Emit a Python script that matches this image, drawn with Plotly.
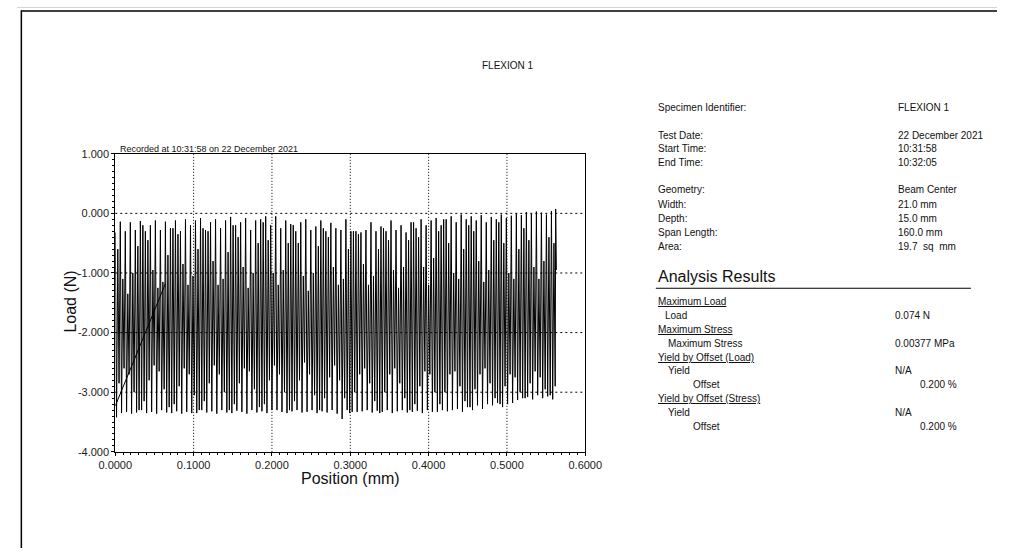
import plotly.graph_objects as go

# ---- Flexural test record: load vs crosshead position ----
position_mm = [
    0.0000, 0.0016, 0.0032, 0.0048, 0.0064, 0.0080, 0.0096, 0.0112, 0.0128, 0.0144,
    0.0160, 0.0176, 0.0192, 0.0208, 0.0224, 0.0240, 0.0256, 0.0272, 0.0288, 0.0304,
    0.0320, 0.0336, 0.0352, 0.0368, 0.0384, 0.0400, 0.0416, 0.0432, 0.0448, 0.0464,
    0.0480, 0.0496, 0.0512, 0.0528, 0.0544, 0.0560, 0.0576, 0.0592, 0.0608, 0.0624,
    0.0640, 0.0656, 0.0672, 0.0688, 0.0704, 0.0720, 0.0736, 0.0752, 0.0768, 0.0784,
    0.0800, 0.0816, 0.0832, 0.0848, 0.0864, 0.0880, 0.0896, 0.0912, 0.0928, 0.0944,
    0.0960, 0.0976, 0.0992, 0.1008, 0.1024, 0.1040, 0.1056, 0.1072, 0.1088, 0.1104,
    0.1120, 0.1136, 0.1152, 0.1168, 0.1184, 0.1200, 0.1216, 0.1232, 0.1248, 0.1264,
    0.1280, 0.1296, 0.1312, 0.1328, 0.1344, 0.1360, 0.1376, 0.1392, 0.1408, 0.1424,
    0.1440, 0.1456, 0.1472, 0.1488, 0.1504, 0.1520, 0.1536, 0.1552, 0.1568, 0.1584,
    0.1600, 0.1616, 0.1632, 0.1648, 0.1664, 0.1680, 0.1696, 0.1712, 0.1728, 0.1744,
    0.1760, 0.1776, 0.1792, 0.1808, 0.1824, 0.1840, 0.1856, 0.1872, 0.1888, 0.1904,
    0.1920, 0.1936, 0.1952, 0.1968, 0.1984, 0.2000, 0.2016, 0.2032, 0.2048, 0.2064,
    0.2080, 0.2096, 0.2112, 0.2128, 0.2144, 0.2160, 0.2176, 0.2192, 0.2208, 0.2224,
    0.2240, 0.2256, 0.2272, 0.2288, 0.2304, 0.2320, 0.2336, 0.2352, 0.2368, 0.2384,
    0.2400, 0.2416, 0.2432, 0.2448, 0.2464, 0.2480, 0.2496, 0.2512, 0.2528, 0.2544,
    0.2560, 0.2576, 0.2592, 0.2608, 0.2624, 0.2640, 0.2656, 0.2672, 0.2688, 0.2704,
    0.2720, 0.2736, 0.2752, 0.2768, 0.2784, 0.2800, 0.2816, 0.2832, 0.2848, 0.2864,
    0.2880, 0.2896, 0.2912, 0.2928, 0.2944, 0.2960, 0.2976, 0.2992, 0.3008, 0.3024,
    0.3040, 0.3056, 0.3072, 0.3088, 0.3104, 0.3120, 0.3136, 0.3152, 0.3168, 0.3184,
    0.3200, 0.3216, 0.3232, 0.3248, 0.3264, 0.3280, 0.3296, 0.3312, 0.3328, 0.3344,
    0.3360, 0.3376, 0.3392, 0.3408, 0.3424, 0.3440, 0.3456, 0.3472, 0.3488, 0.3504,
    0.3520, 0.3536, 0.3552, 0.3568, 0.3584, 0.3600, 0.3616, 0.3632, 0.3648, 0.3664,
    0.3680, 0.3696, 0.3712, 0.3728, 0.3744, 0.3760, 0.3776, 0.3792, 0.3808, 0.3824,
    0.3840, 0.3856, 0.3872, 0.3888, 0.3904, 0.3920, 0.3936, 0.3952, 0.3968, 0.3984,
    0.4000, 0.4016, 0.4032, 0.4048, 0.4064, 0.4080, 0.4096, 0.4112, 0.4128, 0.4144,
    0.4160, 0.4176, 0.4192, 0.4208, 0.4224, 0.4240, 0.4256, 0.4272, 0.4288, 0.4304,
    0.4320, 0.4336, 0.4352, 0.4368, 0.4384, 0.4400, 0.4416, 0.4432, 0.4448, 0.4464,
    0.4480, 0.4496, 0.4512, 0.4528, 0.4544, 0.4560, 0.4576, 0.4592, 0.4608, 0.4624,
    0.4640, 0.4656, 0.4672, 0.4688, 0.4704, 0.4720, 0.4736, 0.4752, 0.4768, 0.4784,
    0.4800, 0.4816, 0.4832, 0.4848, 0.4864, 0.4880, 0.4896, 0.4912, 0.4928, 0.4944,
    0.4960, 0.4976, 0.4992, 0.5008, 0.5024, 0.5040, 0.5056, 0.5072, 0.5088, 0.5104,
    0.5120, 0.5136, 0.5152, 0.5168, 0.5184, 0.5200, 0.5216, 0.5232, 0.5248, 0.5264,
    0.5280, 0.5296, 0.5312, 0.5328, 0.5344, 0.5360, 0.5376, 0.5392, 0.5408, 0.5424,
    0.5440, 0.5456, 0.5472, 0.5488, 0.5504, 0.5520, 0.5536, 0.5552, 0.5568, 0.5584,
    0.5600, 0.5616, 0.5622, 0.5631,
]

load_n = [
    -0.32, -3.42, -0.60, -2.85,  -0.14, -3.35, -1.10, -2.60,  -0.30, -3.33, -1.35, -2.70,  -0.15, -3.36, -1.00, -3.00,
    -0.28, -3.34, -0.55, -3.30,  -0.13, -3.30, -0.20, -3.15,  -0.30, -3.35, -0.45, -2.80,  -0.20, -3.33, -0.95, -2.55,
    -0.12, -3.36, -1.25, -2.65,  -0.28, -3.30, -1.15, -2.95,  -0.14, -3.34, -0.70, -3.25,  -0.25, -3.35, -0.25, -3.20,
    -0.12, -3.32, -0.35, -2.90,  -0.30, -3.36, -0.85, -2.60,  -0.10, -3.33, -1.20, -2.70,  -0.20, -3.35, -1.05, -3.05,
    -0.12, -3.35, -0.60, -3.30,  -0.08, -3.30, -0.25, -3.15,  -0.28, -3.34, -0.30, -2.85,  -0.15, -3.32, -0.80, -2.55,
    -0.10, -3.36, -1.20, -2.70,  -0.25, -3.30, -1.10, -3.00,  -0.12, -3.34, -0.65, -3.30,  -0.06, -3.35, -0.20, -3.20,
    -0.20, -3.31, -0.40, -2.85,  -0.15, -3.33, -0.90, -2.60,  -0.08, -3.36, -1.25, -2.65,  -0.28, -3.30, -1.00, -2.95,
    -0.12, -3.34, -0.50, -3.25,  -0.10, -3.32, -0.15, -3.20,  -0.05, -3.35, -0.45, -2.80,  -0.20, -3.30, -1.00, -2.55,
    -0.05, -3.30, -1.20, -2.70,  -0.25, -3.33, -0.95, -3.00,  -0.12, -3.35, -0.50, -3.30,  -0.18, -3.32, -0.20, -3.15,
    -0.30, -3.30, -0.50, -2.80,  -0.15, -3.34, -1.05, -2.50,  -0.10, -3.33, -1.30, -2.70,  -0.28, -3.30, -1.00, -3.05,
    -0.22, -3.35, -0.55, -3.30,  -0.12, -3.32, -0.25, -3.10,  -0.30, -3.34, -0.40, -2.75,  -0.16, -3.30, -0.90, -2.55,
    -0.25, -3.36, -1.20, -2.80,  -0.28, -3.45, -1.10, -3.10,  -0.10, -3.30, -0.60, -3.35,  -0.30, -3.33, -0.30, -3.00,
    -0.30, -3.33, -0.35, -2.70,  -0.32, -3.32, -0.85, -2.60,  -0.28, -3.30, -1.20, -2.85,  -0.15, -3.34, -1.05, -3.15,
    -0.30, -3.31, -0.60, -3.35,  -0.22, -3.33, -0.25, -3.00,  -0.30, -3.30, -0.45, -2.70,  -0.12, -3.35, -0.95, -2.60,
    -0.28, -3.32, -1.25, -2.85,  -0.20, -3.30, -0.90, -3.10,  -0.32, -3.34, -0.45, -3.30,  -0.15, -3.33, -0.15, -3.20,
    -0.25, -3.31, -0.40, -2.90,  -0.10, -3.35, -0.90, -2.65,  -0.20, -3.30, -1.20, -2.70,  -0.12, -3.33, -0.75, -3.00,
    -0.08, -3.33, -0.30, -3.20,  -0.20, -3.30, -0.10, -3.00,  -0.10, -3.32, -0.50, -2.70,  -0.05, -3.30, -1.00, -2.65,
    -0.15, -3.28, -1.10, -2.90,  -0.02, -3.33, -0.60, -3.15,  -0.10, -3.25, -0.20, -3.25,  -0.05, -3.30, -0.30, -2.95,
    -0.12, -3.22, -0.80, -2.70,  -0.03, -3.28, -1.15, -2.60,  -0.15, -3.20, -0.95, -2.85,  -0.06, -3.22, -0.45, -3.10,
    -0.10, -3.18, -0.15, -3.20,  -0.02, -3.25, -0.50, -2.90,  -0.08, -3.20, -1.00, -2.70,  -0.04, -3.18, -1.10, -2.75,
     0.00, -3.13, -0.60, -3.00,  -0.03, -3.10, -0.25, -3.10,   0.02, -3.08, -0.45, -2.85,  -0.01, -3.12, -0.90, -2.65,
     0.03, -3.05, -1.10, -2.75,   0.01, -3.10, -0.80, -2.95,  -0.02, -3.07, -0.40, -3.05,   0.04, -3.12, -0.50, -2.90,
     0.074, -0.95,
]

# 0.2 % offset construction line
offset_x = [0.0, 0.064]
offset_y = [-3.23, -1.18]

x_ticks = [0.0, 0.1, 0.2, 0.3, 0.4, 0.5, 0.6]
y_ticks = [-4.0, -3.0, -2.0, -1.0, 0.0, 1.0]
x_grid = [0.1, 0.2, 0.3, 0.4, 0.5]
y_grid = [-3.0, -2.0, -1.0, 0.0]

spec_labels = ["Specimen Identifier:", "Test Date:", "Start Time:", "End Time:",
               "Geometry:", "Width:", "Depth:", "Span Length:", "Area:"]
spec_values = ["FLEXION 1", "22 December 2021", "10:31:58", "10:32:05",
               "Beam Center", "21.0 mm", "15.0 mm", "160.0 mm", "19.7  sq  mm"]

W, H = 1014, 554
FONT = "Liberation Sans, Arial, sans-serif"
INK = "#111111"


def px(x):
    return x / W


def py(y):
    return 1 - y / H


fig = go.Figure()
fig.add_trace(go.Scatter(x=position_mm, y=load_n, mode="lines",
                         line=dict(color="black", width=1), hoverinfo="skip",
                         showlegend=False))
fig.add_trace(go.Scatter(x=offset_x, y=offset_y, mode="lines",
                         line=dict(color="black", width=1), hoverinfo="skip",
                         showlegend=False))

shapes = []
# grid drawn over the trace
for gx in x_grid:
    shapes.append(dict(type="line", xref="x", yref="y domain", x0=gx, x1=gx, y0=0, y1=1,
                       line=dict(color="black", width=1, dash="1px,2px"), layer="above"))
for gy in y_grid:
    shapes.append(dict(type="line", xref="x domain", yref="y", x0=0, x1=1, y0=gy, y1=gy,
                       line=dict(color="black", width=1, dash="2px,3px"), layer="above"))

# page frame (top and left edges)
shapes.append(dict(type="line", xref="paper", yref="paper", x0=0, x1=1, y0=py(1.5), y1=py(1.5),
                   line=dict(color="#d4d4d4", width=1)))
shapes.append(dict(type="line", xref="paper", yref="paper", x0=px(4), x1=1, y0=py(5), y1=py(5),
                   line=dict(color="black", width=1.5)))
shapes.append(dict(type="line", xref="paper", yref="paper", x0=px(4.5), x1=px(4.5), y0=0, y1=py(4.5),
                   line=dict(color="black", width=1.5)))
# rule under "Analysis Results"
shapes.append(dict(type="line", xref="paper", yref="paper", x0=px(661), x1=px(987), y0=py(288.5), y1=py(288.5),
                   line=dict(color="black", width=1)))

annotations = []


def text(x, y, s, size=10, anchor="left", angle=0):
    annotations.append(dict(x=px(x), y=py(y), xref="paper", yref="paper", text=s,
                            showarrow=False, xanchor=anchor, yanchor="middle",
                            textangle=angle, font=dict(family=FONT, size=size, color=INK)))


text(508, 61, "FLEXION 1", 10, "center")
text(105, 146, "Recorded at 10:31:58 on 22 December 2021", 9)
text(55, 302, "Load (N)", 16, "center", -90)
text(345, 483, "Position (mm)", 16, "center")

spec_rows = [104, 132, 146, 160, 188, 202.5, 217, 231.5, 246]
for lab, val, yy in zip(spec_labels, spec_values, spec_rows):
    text(661, yy, lab)
    text(909, yy, val)

text(661, 276.5, "Analysis Results", 16)
text(661, 302.5, "<u>Maximum Load</u>")
text(668, 316.5, "Load")
text(906, 316.5, "0.074 N")
text(661, 330.5, "<u>Maximum Stress</u>")
text(671, 345, "Maximum Stress")
text(906, 345, "0.00377 MPa")
text(661, 359.5, "<u>Yield by Offset (Load)</u>")
text(671, 373, "Yield")
text(906, 373, "N/A")
text(697, 387, "Offset")
text(975, 387, "0.200 %", anchor="right")
text(661, 401.5, "<u>Yield by Offset (Stress)</u>")
text(671, 415.5, "Yield")
text(906, 415.5, "N/A")
text(697, 430, "Offset")
text(975, 430, "0.200 %", anchor="right")

axis_common = dict(showgrid=False, zeroline=False, showline=True, linecolor="black",
                   linewidth=1, mirror=True, ticks="outside", ticklen=3, tickcolor="black",
                   tickfont=dict(family=FONT, size=11, color="#1a1a1a"))

fig.update_layout(
    width=W, height=H, autosize=False,
    margin=dict(l=0, r=0, t=0, b=0),
    paper_bgcolor="white", plot_bgcolor="white",
    shapes=shapes, annotations=annotations,
    xaxis=dict(domain=[px(101.7), px(588)], range=[0, 0.6],
               tickvals=x_ticks, ticktext=[f"{v:.4f}" for v in x_ticks],
               minor=dict(dtick=0.01, ticks="outside", ticklen=2, tickcolor="black"),
               **axis_common),
    yaxis=dict(domain=[py(455.7), py(151)], range=[-4, 1],
               tickvals=y_ticks, ticktext=[f"{v:.3f}" for v in y_ticks],
               minor=dict(dtick=0.1, ticks="outside", ticklen=2, tickcolor="black"),
               **axis_common),
)

fig.write_html("out.html")
